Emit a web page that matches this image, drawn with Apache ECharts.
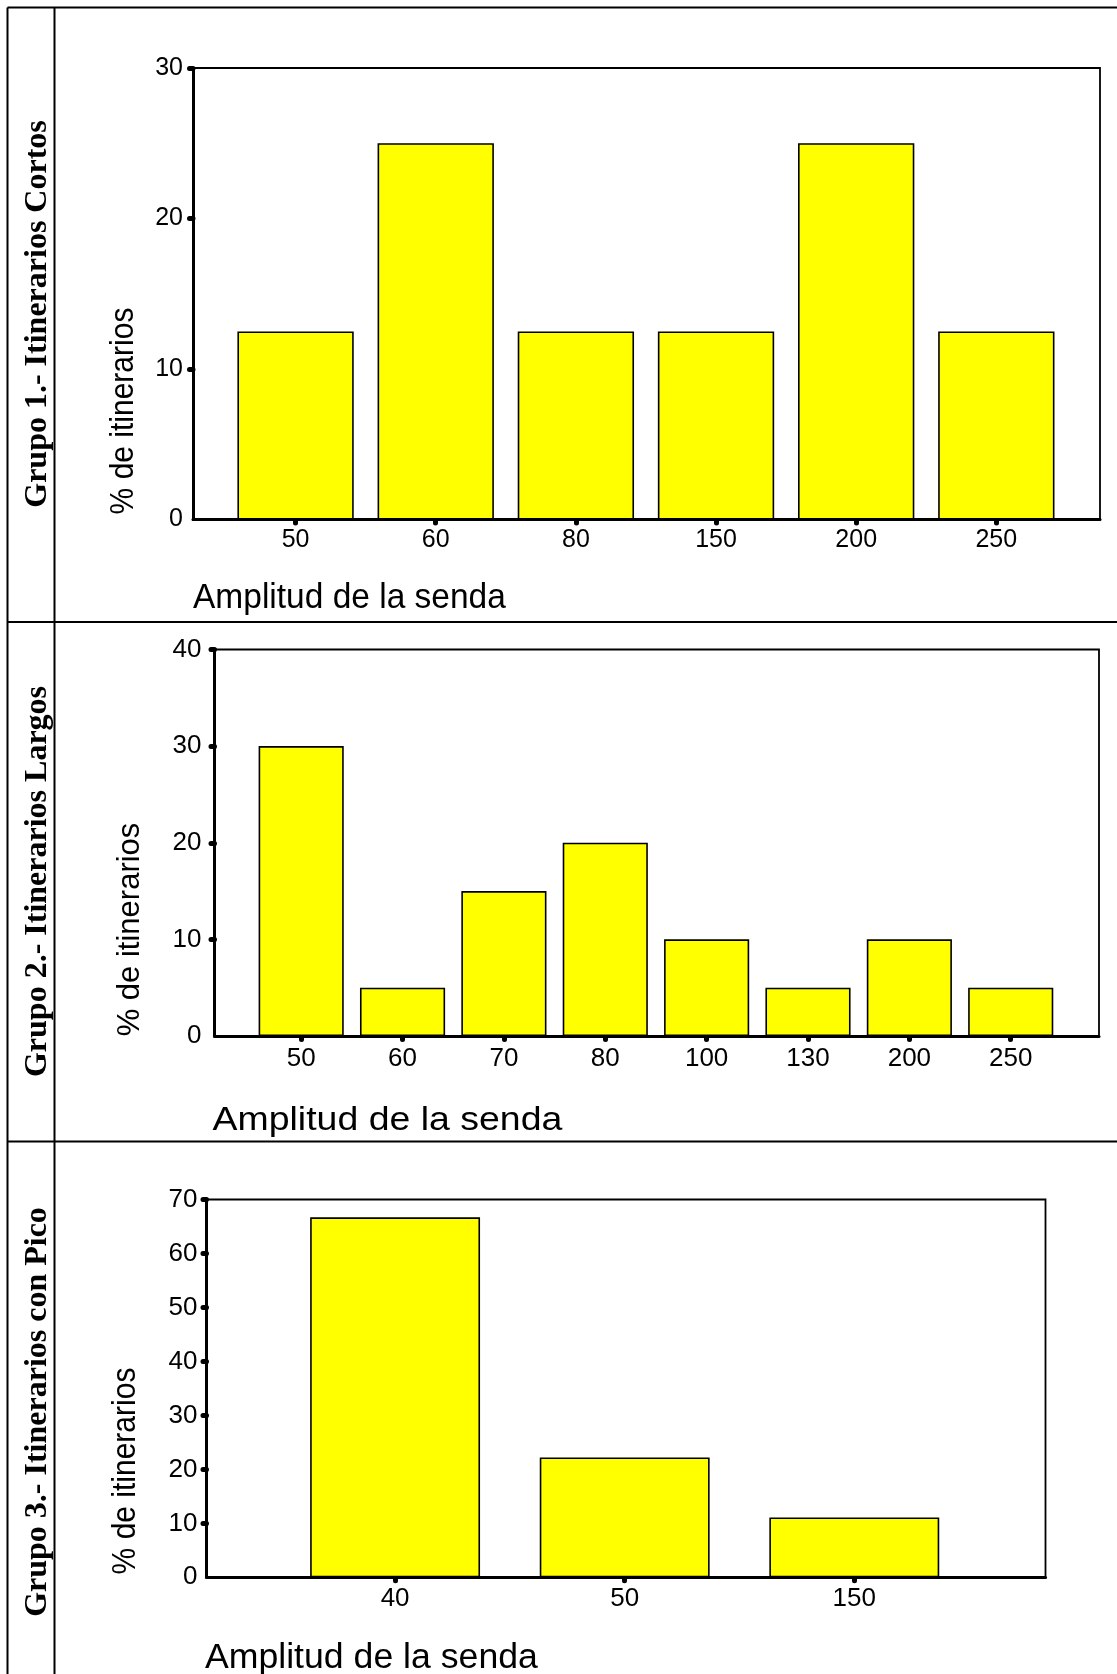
<!DOCTYPE html>
<html>
<head>
<meta charset="utf-8">
<script src="https://cdn.jsdelivr.net/npm/echarts@6/dist/echarts.min.js"></script>
<style>
html,body{margin:0;padding:0;background:#fff;}
#c{width:1117px;height:1674px;}
</style>
</head>
<body>
<div id="c"></div>
<script>
// ---- data ----
const groupTitles = ['Grupo 1.- Itinerarios Cortos', 'Grupo 2.- Itinerarios Largos', 'Grupo 3.- Itinerarios con Pico'];
const yTitle = '% de itinerarios';
const xTitle = 'Amplitud de la senda';

const cats1 = ['50', '60', '80', '150', '200', '250'];
const vals1 = [12.5, 25, 12.5, 12.5, 25, 12.5];
const yTicks1 = [0, 10, 20, 30];

const cats2 = ['50', '60', '70', '80', '100', '130', '200', '250'];
const vals2 = [30, 5, 15, 20, 10, 5, 10, 5];
const yTicks2 = [0, 10, 20, 30, 40];

const cats3 = ['40', '50', '150'];
const vals3 = [66.7, 22.2, 11.1];
const yTicks3 = [0, 10, 20, 30, 40, 50, 60, 70];

// ---- layout ----
const FONT = '"Liberation Sans", Arial, sans-serif';
const panels = [
  { cats: cats1, vals: vals1, ticks: yTicks1,
    frame: { left: 193, top: 68, right: 1100, bottom: 519.5 },
    band: { left: 225.5, right: 1066.4 }, gap: '17%',
    labelSize: 25, yMargin: 10, xMargin: 8 },
  { cats: cats2, vals: vals2, ticks: yTicks2,
    frame: { left: 214.5, top: 649.5, right: 1099, bottom: 1036 },
    band: { left: 250.5, right: 1061.4 }, gap: '16%',
    labelSize: 26, yMargin: 13, xMargin: 10 },
  { cats: cats3, vals: vals3, ticks: yTicks3,
    frame: { left: 206.5, top: 1199.5, right: 1045.5, bottom: 1577.3 },
    band: { left: 280.3, right: 969.1 }, gap: '26%',
    labelSize: 26, yMargin: 9, xMargin: 9 }
];

const grid = [], xAxis = [], yAxis = [], series = [];
panels.forEach((p) => {
  const f = p.frame;
  const h = f.bottom - f.top;
  const minV = p.ticks[0], maxV = p.ticks[p.ticks.length - 1];
  const step = p.ticks[1] - p.ticks[0];
  // frame grid
  const gA = grid.length;
  grid.push({ left: f.left, top: f.top, width: f.right - f.left, height: h,
    show: true, borderColor: '#000', borderWidth: 1.8, backgroundColor: 'transparent' });
  // bar grid
  const gB = grid.length;
  grid.push({ left: p.band.left, top: f.top, width: p.band.right - p.band.left, height: h });

  xAxis.push({ gridIndex: gA, type: 'value', min: 0, max: 1,
    axisLine: { show: true, lineStyle: { color: '#000', width: 3 } },
    axisTick: { show: false }, axisLabel: { show: false }, splitLine: { show: false } });
  const xB = xAxis.length;
  xAxis.push({ gridIndex: gB, type: 'category', data: p.cats,
    axisLine: { show: false },
    axisTick: { show: true, alignWithLabel: true, length: 3.5, lineStyle: { color: '#000', width: 5, cap: 'round' } },
    axisLabel: { color: '#000', fontSize: p.labelSize, fontFamily: FONT, margin: p.xMargin },
    splitLine: { show: false } });

  yAxis.push({ gridIndex: gA, type: 'value', min: minV, max: maxV, interval: step,
    axisLine: { show: true, lineStyle: { color: '#000', width: 3 } },
    axisTick: { show: true, length: 3.5, customValues: p.ticks.filter(v => v > 0),
      lineStyle: { color: '#000', width: 5, cap: 'round' } },
    axisLabel: { color: '#000', fontSize: p.labelSize, fontFamily: FONT, margin: p.yMargin },
    splitLine: { show: false } });
  const yB = yAxis.length;
  yAxis.push({ gridIndex: gB, type: 'value', min: minV, max: maxV, interval: step, show: false });

  series.push({ type: 'bar', xAxisIndex: xB, yAxisIndex: yB, data: p.vals,
    barCategoryGap: p.gap, silent: true,
    itemStyle: { color: '#FFFF00', borderColor: '#000', borderWidth: 1.6 } });
});

function line(x1, y1, x2, y2) {
  return { type: 'line', silent: true, z: 100,
    shape: { x1, y1, x2, y2 }, style: { stroke: '#000', lineWidth: 2 } };
}
function txt(text, x, y, font, opts) {
  opts = opts || {};
  return { type: 'text', x, y, rotation: opts.rot || 0, scaleX: opts.sx || 1, scaleY: opts.sy || 1, z: 100, silent: true,
    style: { text, font, fill: '#000',
      align: opts.align || 'center', verticalAlign: 'middle',
      textAlign: opts.align || 'center', textVerticalAlign: 'middle' } };
}
const R = Math.PI / 2;
const TITLE = 'bold 32px "Liberation Serif", "Times New Roman", serif';
const graphic = [
  // table lines
  line(7.5, 7.5, 1117, 7.5),
  line(7.5, 7.5, 7.5, 1674),
  line(54.5, 7.5, 54.5, 1674),
  line(7.5, 622, 1117, 622),
  line(7.5, 1141.5, 1117, 1141.5),
  // group titles
  txt(groupTitles[0], 38, 314, TITLE, { rot: R }),
  txt(groupTitles[1], 38, 881.5, TITLE, { rot: R }),
  txt(groupTitles[2], 38, 1412, TITLE, { rot: R }),
  // y titles
  txt(yTitle, 124, 411, '30px ' + FONT, { rot: R, sy: 1.08 }),
  txt(yTitle, 130, 929.5, '31px ' + FONT, { rot: R }),
  txt(yTitle, 126, 1471, '30px ' + FONT, { rot: R, sy: 1.08 }),
  // x titles
  txt(xTitle, 193, 598, '33.5px ' + FONT, { align: 'left', sy: 1.05 }),
  txt(xTitle, 212.5, 1121, '33px ' + FONT, { align: 'left', sx: 1.135 }),
  txt(xTitle, 205, 1659, '33px ' + FONT, { align: 'left', sx: 1.08, sy: 1.04 })
];

const chart = echarts.init(document.getElementById('c'), null, { renderer: 'canvas' });
chart.setOption({
  backgroundColor: '#fff',
  animation: false,
  grid, xAxis, yAxis, series, graphic
});
</script>
</body>
</html>
